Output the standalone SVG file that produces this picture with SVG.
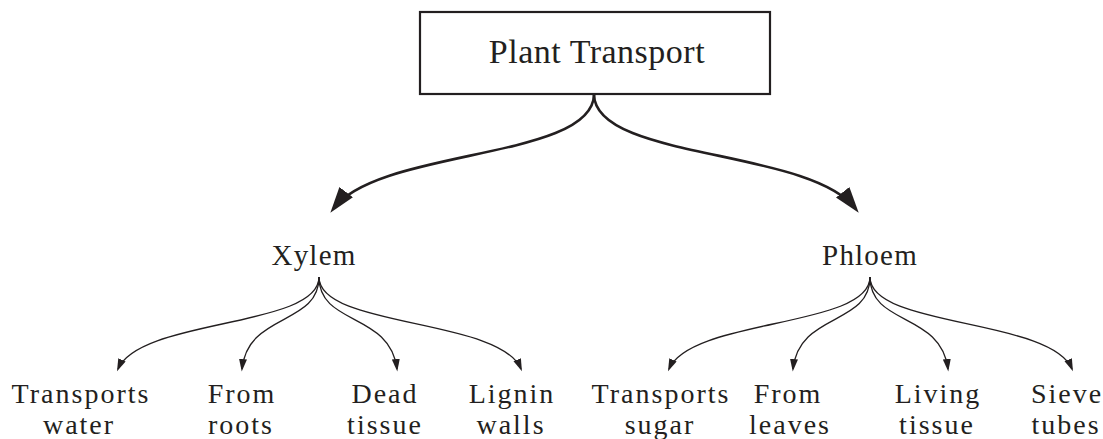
<svg xmlns="http://www.w3.org/2000/svg" width="1103" height="439" viewBox="0 0 1103 439">
  <style>
    text { font-family: "Liberation Serif", "Times New Roman", serif; fill: #231f20; text-anchor: middle; }
    .root { font-size: 34px; letter-spacing: 0.5px; }
    .mid { font-size: 29px; letter-spacing: 1.2px; }
    .leaf { font-size: 28px; letter-spacing: 2px; }
    .big { fill: none; stroke: #231f20; stroke-width: 2.6; marker-end: url(#bigArrow); }
    .small { fill: none; stroke: #231f20; stroke-width: 1.3; marker-end: url(#smallArrow); }
  </style>
  <defs>
    <marker id="bigArrow" markerUnits="userSpaceOnUse" markerWidth="30" markerHeight="20" refX="20" refY="8.5" orient="auto">
      <path d="M0,0 L26,8.5 L0,17 z" fill="#231f20"/>
    </marker>
    <marker id="smallArrow" markerUnits="userSpaceOnUse" markerWidth="16" markerHeight="10" refX="10" refY="4" orient="auto">
      <path d="M0,0 L12.5,4 L0,8 z" fill="#231f20"/>
    </marker>
  </defs>
  <rect width="1103" height="439" fill="#ffffff"/>

  <g id="connectors">
    <path class="big" d="M594,94 C594,160 380,148 334,208"/>
    <path class="big" d="M594,94 C594,160 808,148 855,208"/>
    <path class="small" d="M319,277 C319,328 140,318 118,369"/>
    <path class="small" d="M319,277 C319,326 248,312 242,369"/>
    <path class="small" d="M319,277 C319,326 390,312 397,369"/>
    <path class="small" d="M319,277 C319,328 500,318 521,369"/>
    <path class="small" d="M870,277 C870,328 691,318 669,369"/>
    <path class="small" d="M870,277 C870,326 799,312 793,369"/>
    <path class="small" d="M870,277 C870,326 941,312 948,369"/>
    <path class="small" d="M870,277 C870,328 1051,318 1072,369"/>
  </g>

  <g id="plant-transport">
    <rect x="420" y="12" width="350" height="82" fill="#ffffff" stroke="#231f20" stroke-width="2.2"/>
    <text class="root" x="597" y="63">Plant Transport</text>
  </g>
  <g id="xylem"><text class="mid" x="314" y="265">Xylem</text></g>
  <g id="phloem"><text class="mid" x="870" y="265">Phloem</text></g>

  <g id="transports-water"><text class="leaf" x="81" y="403">Transports</text><text class="leaf" x="79" y="434">water</text></g>
  <g id="from-roots"><text class="leaf" x="242" y="403">From</text><text class="leaf" x="241" y="434">roots</text></g>
  <g id="dead-tissue"><text class="leaf" x="385" y="403">Dead</text><text class="leaf" x="385" y="434">tissue</text></g>
  <g id="lignin-walls"><text class="leaf" x="512" y="403">Lignin</text><text class="leaf" x="511" y="434">walls</text></g>
  <g id="transports-sugar"><text class="leaf" x="661" y="403">Transports</text><text class="leaf" x="660" y="434">sugar</text></g>
  <g id="from-leaves"><text class="leaf" x="788" y="403">From</text><text class="leaf" x="790" y="434">leaves</text></g>
  <g id="living-tissue"><text class="leaf" x="938" y="403">Living</text><text class="leaf" x="937" y="434">tissue</text></g>
  <g id="sieve-tubes"><text class="leaf" x="1067" y="403">Sieve</text><text class="leaf" x="1066" y="434">tubes</text></g>
</svg>
